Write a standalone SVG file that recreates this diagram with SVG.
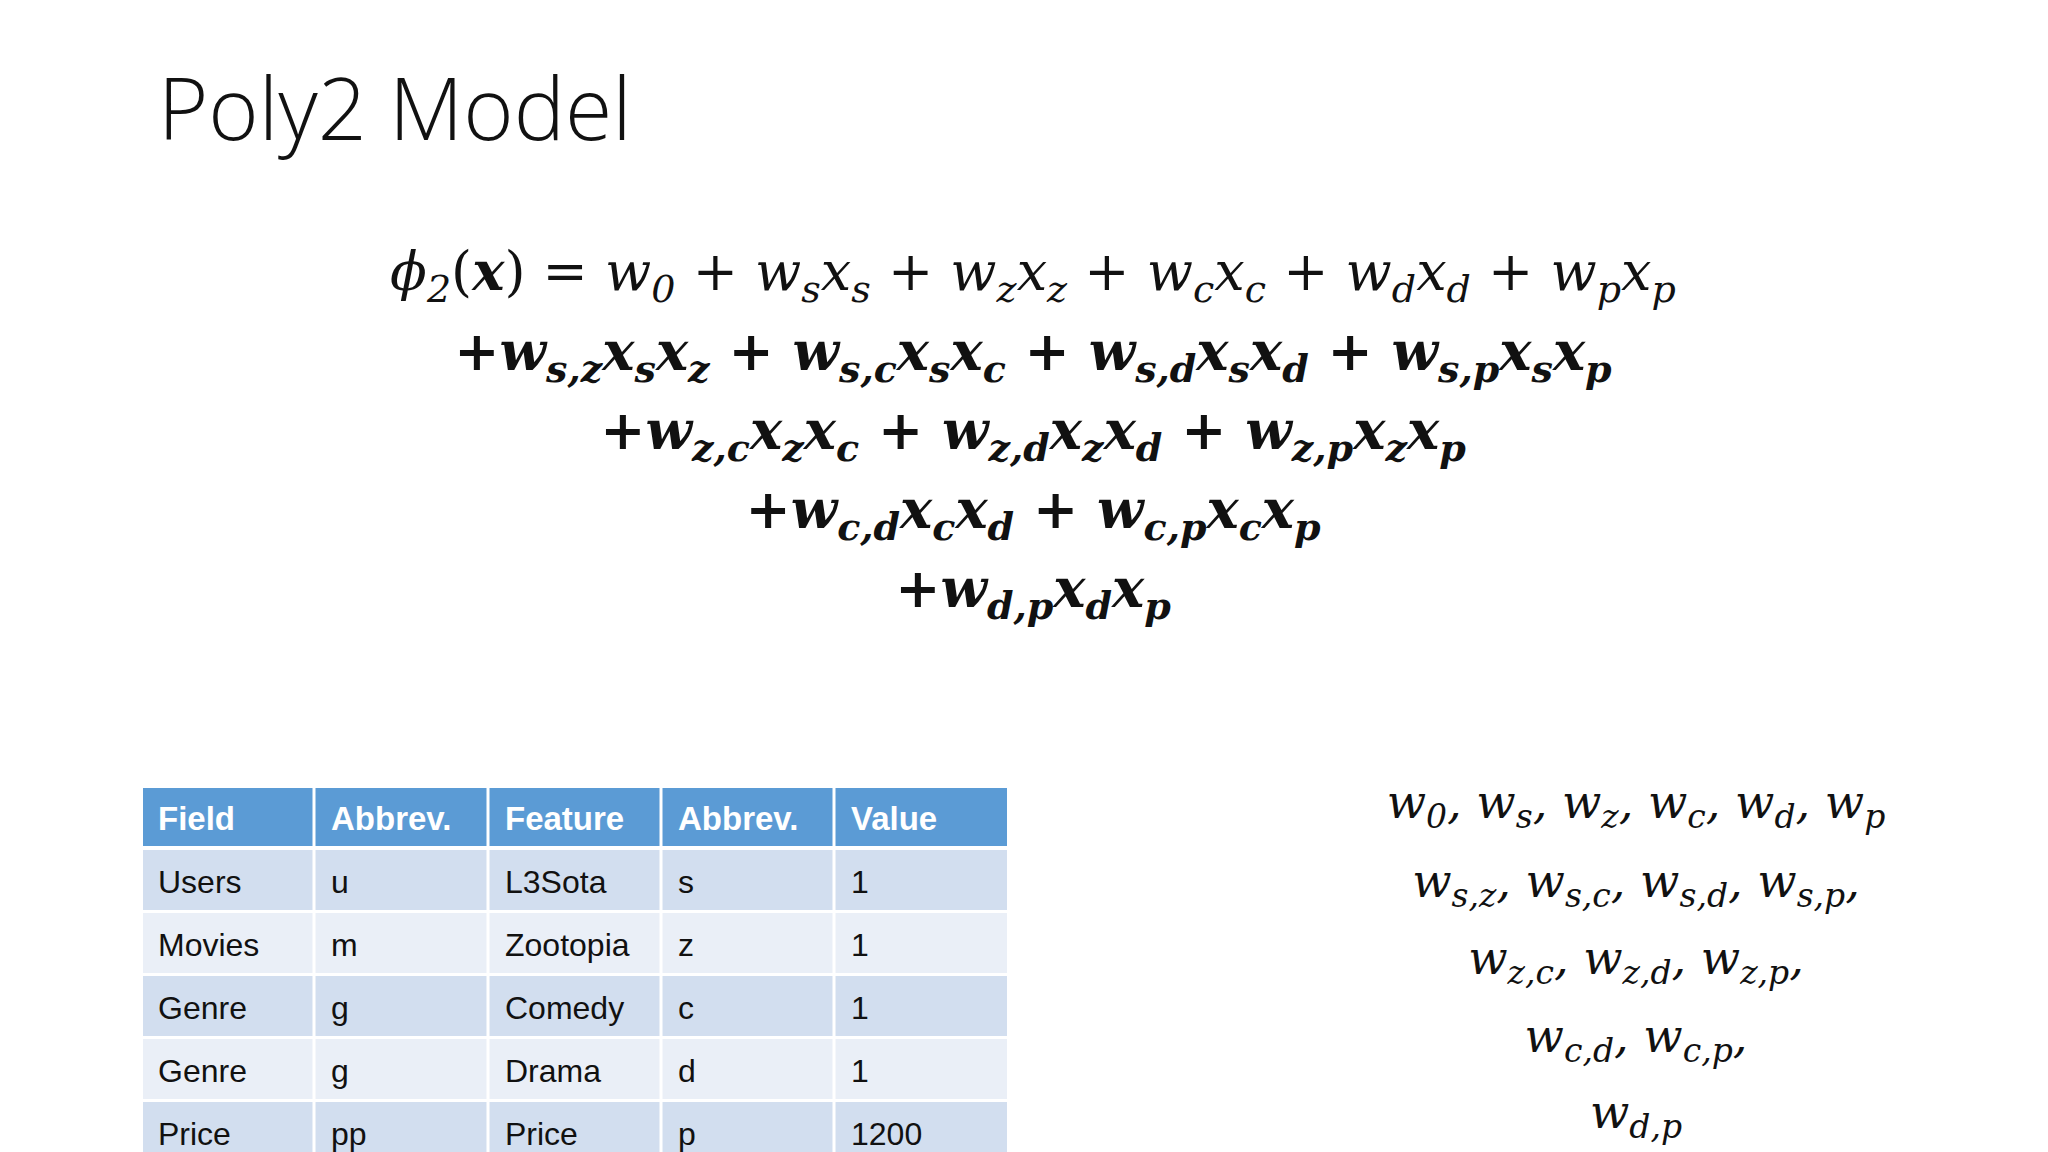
<svg xmlns="http://www.w3.org/2000/svg" width="2048" height="1152" viewBox="0 0 2048 1152">
<style>
.t{font-family:"Open Sans",sans-serif;font-weight:300;font-size:86px;fill:#111}
.eq{font-family:"DejaVu Serif","Liberation Serif",serif;font-style:italic;font-size:54px;fill:#111;text-anchor:middle}
.b{font-weight:bold}
.s{font-size:38px}
.op{font-style:normal}
.w{font-family:"DejaVu Serif","Liberation Serif",serif;font-style:italic;font-size:46px;fill:#111;text-anchor:middle}
.ws{font-size:33px}
.th{font-family:"Liberation Sans",sans-serif;font-size:33px;fill:#fff;font-weight:bold}
.td{font-family:"Liberation Sans",sans-serif;font-size:32px;fill:#111}
.hd{fill:#5B9BD5}.r1{fill:#D2DEEF}.r2{fill:#EAEFF7}
</style>
<rect width="2048" height="1152" fill="#fff"/>
<text class="t" x="158" y="140">Poly2 Model</text>
<g id="equation">
<text class="eq" x="1033" y="290">ϕ<tspan class="s" dy="12">2</tspan><tspan dy="-12" class="op">(</tspan><tspan class="b">x</tspan><tspan class="op">) = </tspan>w<tspan class="s" dy="12">0</tspan><tspan dy="-12" class="op"> + </tspan>w<tspan class="s" dy="12">s</tspan><tspan dy="-12">x</tspan><tspan class="s" dy="12">s</tspan><tspan dy="-12" class="op"> + </tspan>w<tspan class="s" dy="12">z</tspan><tspan dy="-12">x</tspan><tspan class="s" dy="12">z</tspan><tspan dy="-12" class="op"> + </tspan>w<tspan class="s" dy="12">c</tspan><tspan dy="-12">x</tspan><tspan class="s" dy="12">c</tspan><tspan dy="-12" class="op"> + </tspan>w<tspan class="s" dy="12">d</tspan><tspan dy="-12">x</tspan><tspan class="s" dy="12">d</tspan><tspan dy="-12" class="op"> + </tspan>w<tspan class="s" dy="12">p</tspan><tspan dy="-12">x</tspan><tspan class="s" dy="12">p</tspan></text>
<text class="eq b" x="1033" y="370"><tspan class="op">+</tspan>w<tspan class="s" dy="12">s,z</tspan><tspan dy="-12">x</tspan><tspan class="s" dy="12">s</tspan><tspan dy="-12">x</tspan><tspan class="s" dy="12">z</tspan><tspan dy="-12" class="op"> + </tspan>w<tspan class="s" dy="12">s,c</tspan><tspan dy="-12">x</tspan><tspan class="s" dy="12">s</tspan><tspan dy="-12">x</tspan><tspan class="s" dy="12">c</tspan><tspan dy="-12" class="op"> + </tspan>w<tspan class="s" dy="12">s,d</tspan><tspan dy="-12">x</tspan><tspan class="s" dy="12">s</tspan><tspan dy="-12">x</tspan><tspan class="s" dy="12">d</tspan><tspan dy="-12" class="op"> + </tspan>w<tspan class="s" dy="12">s,p</tspan><tspan dy="-12">x</tspan><tspan class="s" dy="12">s</tspan><tspan dy="-12">x</tspan><tspan class="s" dy="12">p</tspan></text>
<text class="eq b" x="1033" y="449"><tspan class="op">+</tspan>w<tspan class="s" dy="12">z,c</tspan><tspan dy="-12">x</tspan><tspan class="s" dy="12">z</tspan><tspan dy="-12">x</tspan><tspan class="s" dy="12">c</tspan><tspan dy="-12" class="op"> + </tspan>w<tspan class="s" dy="12">z,d</tspan><tspan dy="-12">x</tspan><tspan class="s" dy="12">z</tspan><tspan dy="-12">x</tspan><tspan class="s" dy="12">d</tspan><tspan dy="-12" class="op"> + </tspan>w<tspan class="s" dy="12">z,p</tspan><tspan dy="-12">x</tspan><tspan class="s" dy="12">z</tspan><tspan dy="-12">x</tspan><tspan class="s" dy="12">p</tspan></text>
<text class="eq b" x="1033" y="528"><tspan class="op">+</tspan>w<tspan class="s" dy="12">c,d</tspan><tspan dy="-12">x</tspan><tspan class="s" dy="12">c</tspan><tspan dy="-12">x</tspan><tspan class="s" dy="12">d</tspan><tspan dy="-12" class="op"> + </tspan>w<tspan class="s" dy="12">c,p</tspan><tspan dy="-12">x</tspan><tspan class="s" dy="12">c</tspan><tspan dy="-12">x</tspan><tspan class="s" dy="12">p</tspan></text>
<text class="eq b" x="1033" y="607"><tspan class="op">+</tspan>w<tspan class="s" dy="12">d,p</tspan><tspan dy="-12">x</tspan><tspan class="s" dy="12">d</tspan><tspan dy="-12">x</tspan><tspan class="s" dy="12">p</tspan></text>
</g>
<g id="table">
<rect class="hd" x="143" y="788" width="864" height="58"/>
<rect class="r1" x="143" y="850" width="864" height="60"/>
<rect class="r2" x="143" y="913" width="864" height="60"/>
<rect class="r1" x="143" y="976" width="864" height="60"/>
<rect class="r2" x="143" y="1039" width="864" height="60"/>
<rect class="r1" x="143" y="1102" width="864" height="50"/>
<g stroke="#fff" stroke-width="3"><line x1="314" y1="788" x2="314" y2="1152"/><line x1="488" y1="788" x2="488" y2="1152"/><line x1="661" y1="788" x2="661" y2="1152"/><line x1="834" y1="788" x2="834" y2="1152"/></g>
<g class="th"><text x="158" y="830">Field</text><text x="331" y="830">Abbrev.</text><text x="505" y="830">Feature</text><text x="678" y="830">Abbrev.</text><text x="851" y="830">Value</text></g>
<g class="td">
<text x="158" y="893">Users</text><text x="331" y="893">u</text><text x="505" y="893">L3Sota</text><text x="678" y="893">s</text><text x="851" y="893">1</text>
<text x="158" y="956">Movies</text><text x="331" y="956">m</text><text x="505" y="956">Zootopia</text><text x="678" y="956">z</text><text x="851" y="956">1</text>
<text x="158" y="1019">Genre</text><text x="331" y="1019">g</text><text x="505" y="1019">Comedy</text><text x="678" y="1019">c</text><text x="851" y="1019">1</text>
<text x="158" y="1082">Genre</text><text x="331" y="1082">g</text><text x="505" y="1082">Drama</text><text x="678" y="1082">d</text><text x="851" y="1082">1</text>
<text x="158" y="1145">Price</text><text x="331" y="1145">pp</text><text x="505" y="1145">Price</text><text x="678" y="1145">p</text><text x="851" y="1145">1200</text>
</g>
</g>
<g id="weights">
<text class="w" x="1636" y="818">w<tspan class="ws" dy="10">0</tspan><tspan dy="-10">, w</tspan><tspan class="ws" dy="10">s</tspan><tspan dy="-10">, w</tspan><tspan class="ws" dy="10">z</tspan><tspan dy="-10">, w</tspan><tspan class="ws" dy="10">c</tspan><tspan dy="-10">, w</tspan><tspan class="ws" dy="10">d</tspan><tspan dy="-10">, w</tspan><tspan class="ws" dy="10">p</tspan></text>
<text class="w" x="1636" y="897">w<tspan class="ws" dy="10">s,z</tspan><tspan dy="-10">, w</tspan><tspan class="ws" dy="10">s,c</tspan><tspan dy="-10">, w</tspan><tspan class="ws" dy="10">s,d</tspan><tspan dy="-10">, w</tspan><tspan class="ws" dy="10">s,p</tspan><tspan dy="-10">,</tspan></text>
<text class="w" x="1636" y="974">w<tspan class="ws" dy="10">z,c</tspan><tspan dy="-10">, w</tspan><tspan class="ws" dy="10">z,d</tspan><tspan dy="-10">, w</tspan><tspan class="ws" dy="10">z,p</tspan><tspan dy="-10">,</tspan></text>
<text class="w" x="1636" y="1052">w<tspan class="ws" dy="10">c,d</tspan><tspan dy="-10">, w</tspan><tspan class="ws" dy="10">c,p</tspan><tspan dy="-10">,</tspan></text>
<text class="w" x="1636" y="1128">w<tspan class="ws" dy="10">d,p</tspan></text>
</g>
</svg>
